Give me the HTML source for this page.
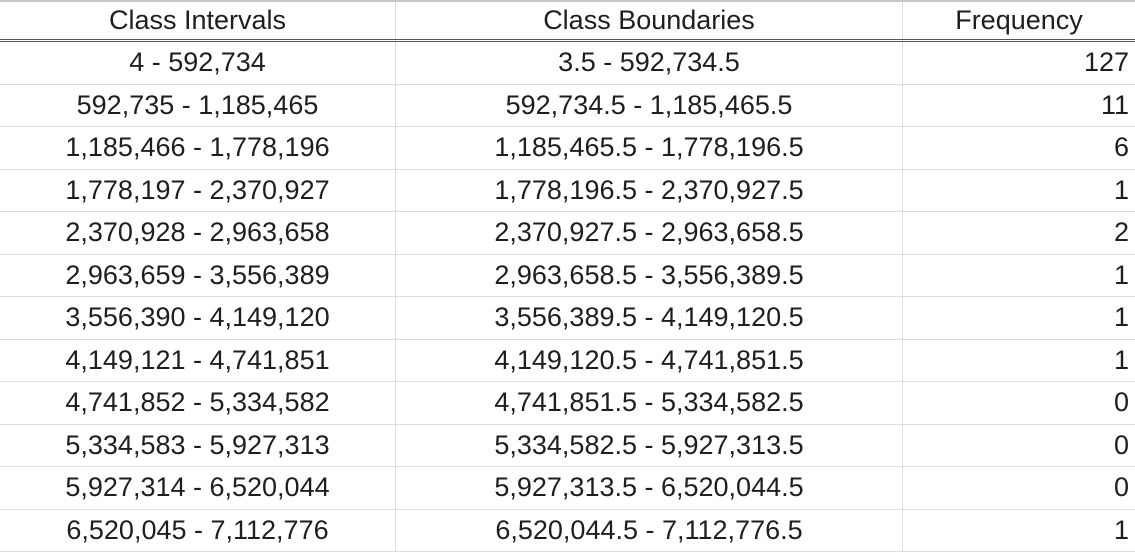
<!DOCTYPE html>
<html><head><meta charset="utf-8"><style>
html,body{margin:0;padding:0;background:#fff;}
body{width:1135px;height:552px;overflow:hidden;font-family:"Liberation Sans",sans-serif;position:relative;}
.row{position:absolute;left:0;width:1135px;display:flex;box-sizing:border-box;border-bottom:1px solid #dcdcdc;}
.cell{box-sizing:border-box;font-size:27px;color:#1e1e1e;white-space:nowrap;display:flex;align-items:center;border-right:1px solid #dcdcdc;height:100%;}
.c1{width:396px;justify-content:center;}
.c2{width:507px;justify-content:center;}
.c3{width:232px;justify-content:flex-end;padding-right:6px;border-right:none;}
.hdr{top:0;height:42px;border-top:2px solid #c8c8c8;border-bottom:3px double #555;}
.hdr .c3{justify-content:center;padding-right:0;}
</style></head><body>
<div class="row hdr">
<div class="cell c1">Class Intervals</div>
<div class="cell c2">Class Boundaries</div>
<div class="cell c3">Frequency</div>
</div>
<div id="tb"></div>
<script>
const intervals=["4 - 592,734","592,735 - 1,185,465","1,185,466 - 1,778,196","1,778,197 - 2,370,927","2,370,928 - 2,963,658","2,963,659 - 3,556,389","3,556,390 - 4,149,120","4,149,121 - 4,741,851","4,741,852 - 5,334,582","5,334,583 - 5,927,313","5,927,314 - 6,520,044","6,520,045 - 7,112,776"];
const boundaries=["3.5 - 592,734.5","592,734.5 - 1,185,465.5","1,185,465.5 - 1,778,196.5","1,778,196.5 - 2,370,927.5","2,370,927.5 - 2,963,658.5","2,963,658.5 - 3,556,389.5","3,556,389.5 - 4,149,120.5","4,149,120.5 - 4,741,851.5","4,741,851.5 - 5,334,582.5","5,334,582.5 - 5,927,313.5","5,927,313.5 - 6,520,044.5","6,520,044.5 - 7,112,776.5"];
const frequencies=[127,11,6,1,2,1,1,1,0,0,0,1];
const tb=document.getElementById('tb');
const rowH=(552-42)/intervals.length;
for(let i=0;i<intervals.length;i++){
  const tr=document.createElement('div');
  tr.className='row';
  tr.style.top=(42+i*rowH)+'px';
  tr.style.height=rowH+'px';
  
  
  const a=document.createElement('div');a.className='cell c1';a.textContent=intervals[i];
  
  
  const b=document.createElement('div');b.className='cell c2';b.textContent=boundaries[i];
  
  
  const c=document.createElement('div');c.className='cell c3';c.textContent=frequencies[i];
  
  
  tr.appendChild(a);tr.appendChild(b);tr.appendChild(c);tb.appendChild(tr);
}
</script>
</body></html>
